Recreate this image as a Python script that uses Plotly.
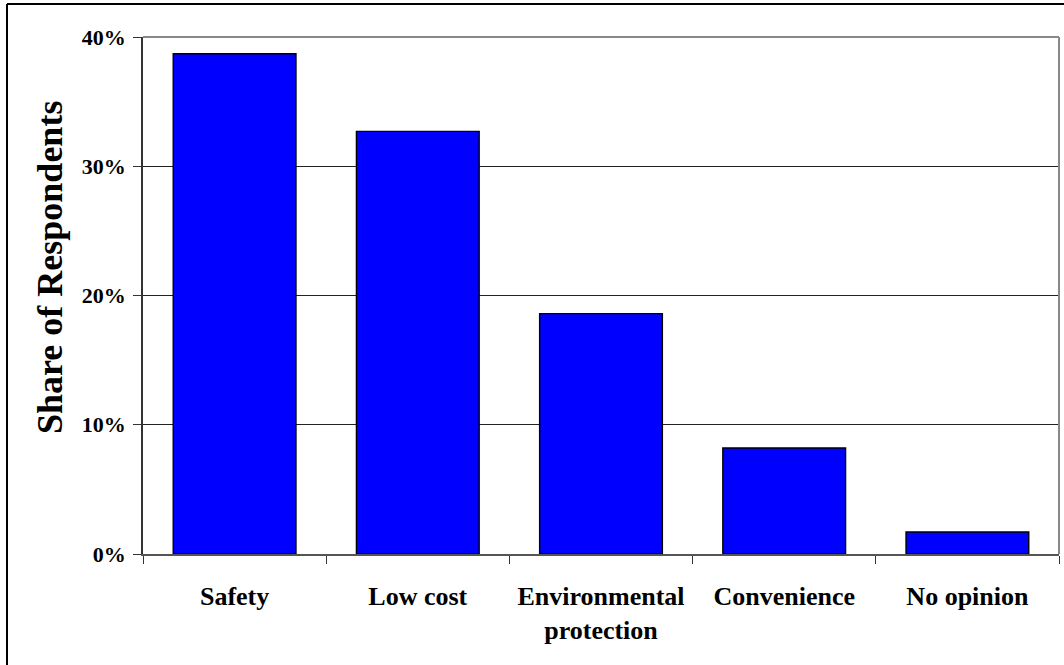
import plotly.graph_objects as go

categories = ["Safety", "Low cost", "Environmental<br>protection", "Convenience", "No opinion"]
shares = [38.7, 32.7, 18.6, 8.2, 1.7]
y_tick_vals = [0, 10, 20, 30, 40]
y_tick_text = ["0%", "10%", "20%", "30%", "40%"]
y_title = "Share of Respondents"

W, H = 1064, 665
L, R, T, B = 143, 5, 37, 111
pw, ph = W - L - R, H - T - B

font = "Liberation Serif, Times New Roman, serif"


def px_x(x):
    return (x - L) / pw


def px_y(y):
    return (T + ph - y) / ph


fig = go.Figure(go.Bar(
    x=categories, y=shares,
    marker=dict(color="#0000FF", line=dict(color="black", width=1.4)),
    width=0.67,
))

fig.update_layout(
    width=W, height=H,
    margin=dict(l=L, r=R, t=T, b=B),
    plot_bgcolor="white", paper_bgcolor="white",
    showlegend=False,
    font=dict(family=font, color="black"),
    xaxis=dict(
        showline=True, linecolor="#555", linewidth=1.5,
        ticks="outside", tickson="boundaries", ticklen=8, tickcolor="#333",
        ticklabelstandoff=18,
        tickfont=dict(family=font, size=26, color="black", weight="bold"),
        showgrid=False,
    ),
    yaxis=dict(
        range=[0, 40], tickvals=y_tick_vals, ticktext=y_tick_text,
        showline=True, linecolor="#333", linewidth=1.5,
        ticks="outside", ticklen=8, tickcolor="#333",
        ticklabelstandoff=3,
        showgrid=True, gridcolor="#222", gridwidth=1,
        zeroline=False,
        tickfont=dict(family=font, size=22, color="black", weight="bold"),
    ),
    annotations=[
        dict(text=y_title, textangle=-90, showarrow=False,
             xref="paper", yref="paper", x=px_x(50), y=px_y(268),
             xanchor="center", yanchor="middle",
             font=dict(family=font, size=36, color="black", weight="bold")),
    ],
    shapes=[
        dict(type="line", xref="paper", yref="paper", x0=0, x1=1, y0=1, y1=1,
             line=dict(color="#888", width=2)),
        dict(type="line", xref="paper", yref="paper", x0=1, x1=1, y0=0, y1=1,
             line=dict(color="#888", width=2)),
        dict(type="line", xref="paper", yref="paper",
             x0=px_x(7), x1=px_x(W + 10), y0=px_y(4), y1=px_y(4),
             line=dict(color="black", width=2)),
        dict(type="line", xref="paper", yref="paper",
             x0=px_x(7), x1=px_x(7), y0=px_y(4), y1=px_y(H + 10),
             line=dict(color="black", width=2)),
    ],
)

fig.write_html(
    "out.html",
    config={"displayModeBar": False},
    post_script="document.body.style.margin='0';document.body.style.overflow='hidden';",
)
